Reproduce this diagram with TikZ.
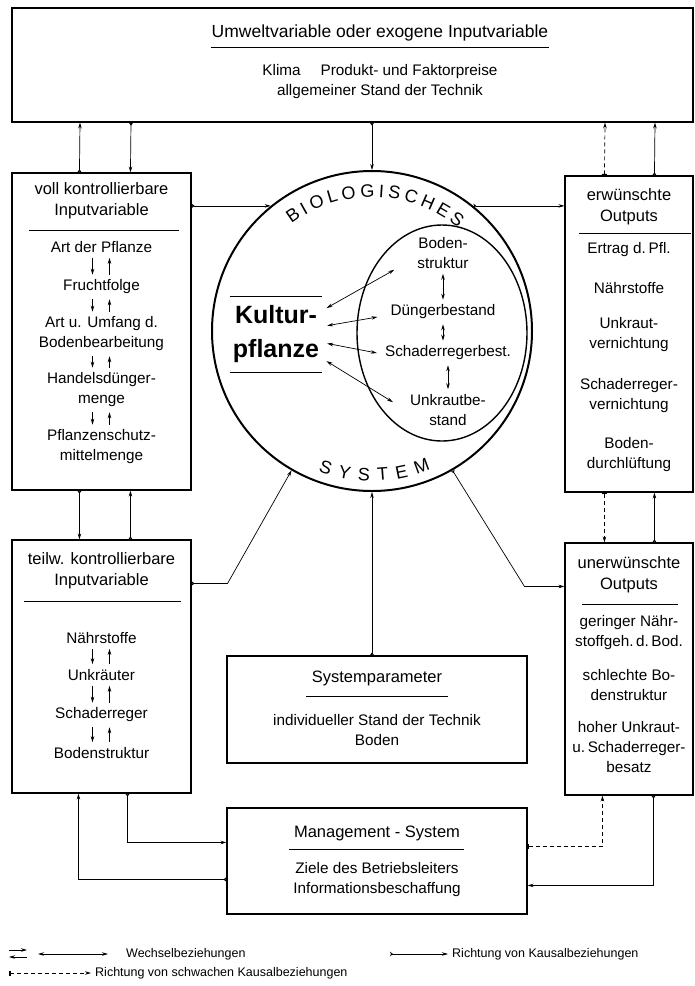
\documentclass[tikz,border=0pt]{standalone}
\usepackage{fontspec}
\setmainfont{Liberation Sans}
\usepackage{tikz}
\usetikzlibrary{arrows.meta,shapes.geometric,decorations.text}
\newcommand{\ttlfont}{\fontsize{16.5}{21}\selectfont}
\newcommand{\txtfont}{\fontsize{15.3}{20}\selectfont}
\newcommand{\kpfont}{\fontsize{25}{34}\selectfont\bfseries}
\newcommand{\arcfont}{\fontsize{18}{18}\selectfont}
\newcommand{\lgdfont}{\fontsize{12.5}{14}\selectfont}

\begin{document}
\begin{tikzpicture}[x=1pt,y=1pt,
  >={Stealth[length=6pt,width=3.5pt]},
  box/.style={draw,line width=1.1pt,inner sep=0pt},
  ttl/.style={font=\ttlfont,align=center,inner sep=1pt},
  txt/.style={font=\txtfont,align=center,inner sep=1pt},
  rule/.style={line width=0.8pt},
  pair/.style={->,line width=0.7pt,shorten <=4pt,shorten >=4pt},
  wb2/.style={<->,line width=0.7pt},
  causal/.style={arrows={Stealth[length=3pt,width=4.5pt,reversed]-Stealth[length=6pt,width=3.5pt]},line width=0.7pt},
  weak/.style={arrows={Bar[width=5pt,line width=1.5pt]-Stealth[length=6pt,width=3.5pt]},dash pattern=on 4pt off 3pt,line width=0.7pt}]
\useasboundingbox (0,0) rectangle (695,-986);

% boxes
\node (umwelt) [box,minimum width=681pt,minimum height=114pt] at (352.5,-65) {};
\node (voll) [box,minimum width=179pt,minimum height=317pt] at (101.5,-331.5) {};
\node (teilw) [box,minimum width=179pt,minimum height=253pt] at (101.5,-666.5) {};
\node (erw) [box,minimum width=128pt,minimum height=316pt] at (629,-334) {};
\node (unerw) [box,minimum width=128pt,minimum height=252pt] at (629,-669) {};
\node (sysp) [box,minimum width=300pt,minimum height=107pt] at (377,-709.5) {};
\node (mgmt) [box,minimum width=300pt,minimum height=106pt] at (377,-861) {};
\node (bio) [circle,draw,line width=2pt,minimum size=320pt,inner sep=0pt] at (372,-331) {};
\node (inner) [ellipse,draw,line width=1.4pt,minimum width=170pt,minimum height=216pt,inner sep=0pt] at (442,-333) {};

% Umweltvariable
\node (ut) [ttl,font=\fontsize{17.5}{21}\selectfont] at (380,-33) {Umweltvariable oder exogene Inputvariable};
\draw[rule] ([yshift=-5pt]ut.south west) -- ([yshift=-5pt]ut.south east);
\node (uk) [txt] at (380,-82) {Klima\hspace{1.3em}Produkt- und Faktorpreise\\allgemeiner Stand der Technik};

% voll kontrollierbare Inputvariable
\node (v0) [ttl] at (101.5,-201) {voll kontrollierbare\\Inputvariable};
\draw[rule] ([xshift=18pt,yshift=-58pt]voll.north west) -- ([xshift=-13pt,yshift=-58pt]voll.north east);
\node (v1) [txt] at (101.5,-247) {Art der Pflanze};
\node (v2) [txt] at (101.5,-287) {Fruchtfolge};
\node (v3) [txt] at (101.5,-334) {Art u. Umfang d.\\Bodenbearbeitung};
\node (v4) [txt] at (101.5,-390) {Handelsdünger-\\menge};
\node (v5) [txt] at (101.5,-447) {Pflanzenschutz-\\mittelmenge};
\draw[pair] ([xshift=-9pt]v1.south) -- ([xshift=-9pt]v2.north);
\draw[pair] ([xshift=8pt]v2.north) -- ([xshift=8pt]v1.south);
\draw[pair] ([xshift=-9pt]v2.south) -- ([xshift=-9pt]v3.north);
\draw[pair] ([xshift=8pt]v3.north) -- ([xshift=8pt]v2.south);
\draw[pair] ([xshift=-9pt]v3.south) -- ([xshift=-9pt]v4.north);
\draw[pair] ([xshift=8pt]v4.north) -- ([xshift=8pt]v3.south);
\draw[pair] ([xshift=-9pt]v4.south) -- ([xshift=-9pt]v5.north);
\draw[pair] ([xshift=8pt]v5.north) -- ([xshift=8pt]v4.south);

% teilw. kontrollierbare Inputvariable
\node (t0) [ttl] at (101.5,-571) {teilw. kontrollierbare\\Inputvariable};
\draw[rule] ([xshift=13pt,yshift=-62pt]teilw.north west) -- ([xshift=-11pt,yshift=-62pt]teilw.north east);
\node (t1) [txt] at (101.5,-638) {Nährstoffe};
\node (t2) [txt] at (101.5,-675) {Unkräuter};
\node (t3) [txt] at (101.5,-715) {Schaderreger};
\node (t4) [txt] at (101.5,-753) {Bodenstruktur};
\draw[pair] ([xshift=-9pt]t1.south) -- ([xshift=-9pt]t2.north);
\draw[pair] ([xshift=8pt]t2.north) -- ([xshift=8pt]t1.south);
\draw[pair] ([xshift=-9pt]t2.south) -- ([xshift=-9pt]t3.north);
\draw[pair] ([xshift=8pt]t3.north) -- ([xshift=8pt]t2.south);
\draw[pair] ([xshift=-9pt]t3.south) -- ([xshift=-9pt]t4.north);
\draw[pair] ([xshift=8pt]t4.north) -- ([xshift=8pt]t3.south);

% erwuenschte Outputs
\node (e0) [ttl] at (629,-206.5) {erwünschte\\Outputs};
\draw[rule] ([xshift=15pt,yshift=-58pt]erw.north west) -- ([xshift=-3pt,yshift=-58pt]erw.north east);
\node (e1) [txt] at (629,-250) {Ertrag d.\,Pfl.};
\node (e2) [txt] at (629,-288) {Nährstoffe};
\node (e3) [txt] at (629,-335) {Unkraut-\\vernichtung};
\node (e4) [txt] at (629,-396) {Schaderreger-\\vernichtung};
\node (e5) [txt] at (629,-454.5) {Boden-\\durchlüftung};

% unerwuenschte Outputs
\node (u0) [ttl] at (629,-575) {unerwünschte\\Outputs};
\draw[rule] ([xshift=18pt,yshift=-62pt]unerw.north west) -- ([xshift=-16pt,yshift=-62pt]unerw.north east);
\node (u1) [txt] at (629,-632.5) {geringer Nähr-\\stoffgeh.\,d.\,Bod.};
\node (u2) [txt] at (629,-685) {schlechte Bo-\\denstruktur};
\node (u3) [txt] at (629,-747) {hoher Unkraut-\\u.\,Schaderreger-\\besatz};

% Systemparameter, Management
\node (s0) [ttl] at (377,-678) {Systemparameter};
\draw[rule] ([xshift=80pt,yshift=-41pt]sysp.north west) -- ([xshift=-80pt,yshift=-41pt]sysp.north east);
\node (s1) [txt] at (377,-730) {individueller Stand der Technik\\Boden};
\node (m0) [ttl] at (377,-833) {Management - System};
\draw[rule] ([xshift=63pt,yshift=-42pt]mgmt.north west) -- ([xshift=-64pt,yshift=-42pt]mgmt.north east);
\node (m1) [txt] at (377,-879.5) {Ziele des Betriebsleiters\\Informationsbeschaffung};

% biologisches System
\path[decorate,decoration={text along path,text={|\arcfont|BIOLOGISCHES},text align={fit to path}}]
  (bio.center) ++(127:134) arc[start angle=127,end angle=50,radius=134];
\path[decorate,decoration={text along path,text={|\arcfont|SYSTEM},text align={fit to path}}]
  (bio.center) ++(249:150) arc[start angle=249,end angle=293,radius=150];
\node (kp) [font=\kpfont,align=center,inner xsep=3pt,inner ysep=9pt] at (276,-334.5) {Kultur-\\pflanze};
\draw[rule] (kp.north west) -- (kp.north east);
\draw[rule] (kp.south west) -- (kp.south east);
\node (ib) [txt] at (443,-253) {Boden-\\struktur};
\node (id) [txt] at (443,-312) {Düngerbestand};
\node (is) [txt] at (448,-353) {Schaderregerbest.};
\node (iu) [txt] at (448,-410) {Unkrautbe-\\stand};
\draw[wb2,shorten <=4pt,shorten >=4pt] (ib.south) -- (ib.south |- id.north);
\draw[wb2,shorten <=4pt,shorten >=4pt] (id.south) -- (id.south |- is.north);
\draw[wb2,shorten <=4pt,shorten >=4pt] (is.south) -- (iu.north);
\draw[wb2,shorten <=5pt] ([yshift=24pt]kp.east) -- ([xshift=-22pt]ib.south west);
\draw[wb2,shorten <=5pt] ([yshift=8pt]kp.east) -- ([xshift=-12pt,yshift=-5pt]id.west);
\draw[wb2,shorten <=5pt] ([yshift=-8pt]kp.east) -- ([xshift=-7pt]is.west);
\draw[wb2,shorten <=5pt] ([yshift=-24pt]kp.east) -- ([xshift=-16pt,yshift=-9pt]iu.north west);

% connectors
\draw[causal] ([xshift=68pt]voll.north west) -- ([xshift=-272.5pt]umwelt.south);
\draw[causal] ([xshift=-221.5pt]umwelt.south) -- ([xshift=119pt]voll.north west);
\draw[causal] (bio.north |- umwelt.south) -- (bio.north);
\draw[weak] ([xshift=40pt]erw.north west) -- ([xshift=252.5pt]umwelt.south);
\draw[causal] ([xshift=90pt]erw.north west) -- ([xshift=302.5pt]umwelt.south);
\draw[causal] ([xshift=68pt]voll.south west) -- ([xshift=68pt]teilw.north west);
\draw[causal] ([xshift=119pt]teilw.north west) -- ([xshift=119pt]voll.south west);
\draw[weak] ([xshift=40pt]erw.south west) -- ([xshift=40pt]unerw.north west);
\draw[causal] ([xshift=90pt]unerw.north west) -- ([xshift=90pt]erw.south west);
\draw[causal] (bio.129 -| voll.east) -- (bio.129);
\draw[causal] (bio.51) -- (bio.51 -| erw.west);
\draw[causal] ([yshift=-44pt]teilw.north east) -- ++(36,0) -- (bio.240);
\draw[causal] (bio.300) -- ([xshift=-40pt,yshift=-44pt]unerw.north west) -- ([yshift=-44pt]unerw.north west);
\draw[causal] (bio.south |- sysp.north) -- (bio.south);
\draw[causal] ([xshift=116pt]teilw.south west) |- ([yshift=-35pt]mgmt.north west);
\draw[causal] ([yshift=-72pt]mgmt.north west) -| ([xshift=67pt]teilw.south west);
\draw[weak] ([yshift=-39pt]mgmt.north east) -| ([xshift=38pt]unerw.south west);
\draw[causal] ([xshift=89pt]unerw.south west) |- ([yshift=-78pt]mgmt.north east);

% legend
\node (lwb) [font=\lgdfont,anchor=west,inner sep=0pt] at (126,-954) {Wechselbeziehungen};
\node (lkb) [font=\lgdfont,anchor=west,inner sep=0pt] at (452,-954) {Richtung von Kausalbeziehungen};
\node (lsk) [font=\lgdfont,anchor=west,inner sep=0pt] at (95,-973) {Richtung von schwachen Kausalbeziehungen};
\draw[->,line width=0.7pt] ([xshift=-117pt,yshift=4pt]lwb.west) -- ([xshift=-99pt,yshift=4pt]lwb.west);
\draw[->,line width=0.7pt] ([xshift=-99pt,yshift=-3pt]lwb.west) -- ([xshift=-117pt,yshift=-3pt]lwb.west);
\draw[wb2] ([xshift=-88pt]lwb.west) -- ([xshift=-18pt]lwb.west);
\draw[causal] ([xshift=-62pt]lkb.west) -- ([xshift=-4pt]lkb.west);
\draw[weak] ([xshift=-86pt]lsk.west) -- ([xshift=-4pt]lsk.west);
\end{tikzpicture}
\end{document}
